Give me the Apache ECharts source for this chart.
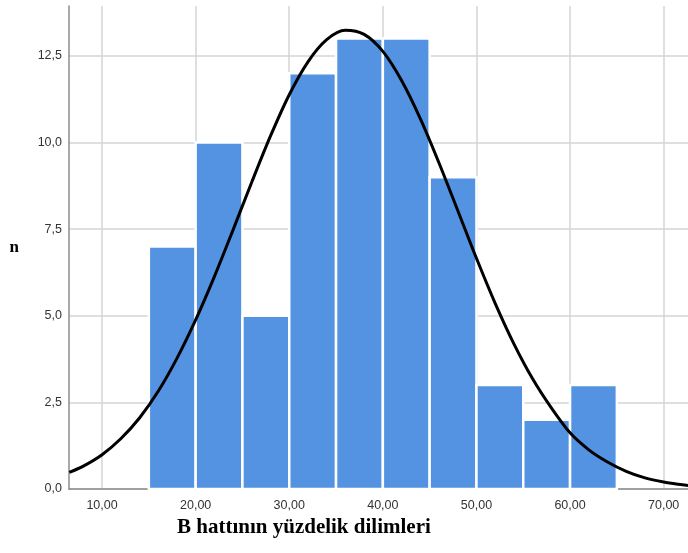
<!DOCTYPE html>
<html>
<head>
<meta charset="utf-8">
<script src="https://cdn.jsdelivr.net/npm/echarts@6/dist/echarts.min.js"></script>
<style>
  html, body { margin: 0; padding: 0; background: #fff; }
  #chart { width: 688px; height: 553px; }
</style>
</head>
<body>
<div id="chart"></div>
<script>
// histogram bins (lower edge, upper edge) and counts
var binStart = [15, 20, 25, 30, 35, 40, 45, 50, 55, 60];
var binEnd = [20, 25, 30, 35, 40, 45, 50, 55, 60, 65];
var counts = [7, 10, 5, 12, 13, 13, 9, 3, 2, 3];
// normal curve, points
var curveX = [6.5, 8, 10, 12, 14, 16, 18, 20, 22, 24, 26, 28, 30, 32, 34, 36, 38, 40, 42, 44, 46, 48, 50, 52, 54, 56, 58, 60, 62, 64, 66, 68, 70, 72, 72.6];
var curveY = [0.48, 0.66, 0.99, 1.45, 2.05, 2.82, 3.77, 4.88, 6.13, 7.48, 8.86, 10.19, 11.38, 12.33, 12.97, 13.24, 13.12, 12.63, 11.79, 10.69, 9.41, 8.04, 6.66, 5.36, 4.19, 3.18, 2.34, 1.62, 1.13, 0.78, 0.51, 0.32, 0.2, 0.12, 0.1];
// tick labels
var xTicks = [10, 20, 30, 40, 50, 60, 70];
var yTicks = [0, 2.5, 5, 7.5, 10, 12.5];

var barData = [];
for (var i = 0; i < counts.length; i++) {
  barData.push([binStart[i], binEnd[i], counts[i]]);
}
var lineData = [];
for (var j = 0; j < curveX.length; j++) {
  lineData.push([curveX[j], curveY[j]]);
}

var chart = echarts.init(document.getElementById("chart"));
var option = {
  animation: false,
  title: {
    text: "B hattının yüzdelik dilimleri",
    left: 172,
    top: 512,
    textStyle: { fontFamily: "Liberation Serif", fontWeight: "bold", fontSize: 21, color: "#000" }
  },
  grid: { left: 69, right: 0, top: 6, bottom: 64 },
  xAxis: {
    type: "value",
    min: 6.47,
    max: 72.6,
    axisLine: { show: true, lineStyle: { color: "#8c8c8c", width: 1.5 } },
    axisTick: { show: false, customValues: xTicks },
    axisLabel: {
      customValues: xTicks,
      color: "#333",
      fontSize: 12.5,
      fontFamily: "Liberation Sans",
      margin: 10,
      formatter: function (v) { return v.toFixed(2).replace(".", ","); }
    },
    splitLine: { show: true, lineStyle: { color: "#d4d4d4", width: 1.5 } }
  },
  yAxis: {
    type: "value",
    min: 0,
    max: 13.94,
    name: "n",
    nameLocation: "middle",
    nameRotate: 0,
    nameGap: 50,
    nameTextStyle: { fontFamily: "Liberation Serif", fontWeight: "bold", fontSize: 17, color: "#000" },
    axisLine: { show: true, lineStyle: { color: "#8c8c8c", width: 1.5 } },
    axisTick: { show: false, customValues: yTicks },
    axisLabel: {
      customValues: yTicks,
      color: "#333",
      fontSize: 12.5,
      fontFamily: "Liberation Sans",
      margin: 7,
      formatter: function (v) { return v.toFixed(1).replace(".", ","); }
    },
    splitLine: { show: true, lineStyle: { color: "#d4d4d4", width: 1.5 } }
  },
  series: [
    {
      type: "custom",
      data: barData,
      encode: { x: [0, 1], y: 2 },
      renderItem: function (params, api) {
        var p0 = api.coord([api.value(0), api.value(2)]);
        var p1 = api.coord([api.value(1), 0]);
        return {
          type: "rect",
          shape: { x: p0[0], y: p0[1], width: p1[0] - p0[0], height: p1[1] - p0[1] },
          style: { fill: "#5393e1", stroke: "#ffffff", lineWidth: 2.5 }
        };
      },
      z: 2
    },
    {
      type: "line",
      data: lineData,
      smooth: 0.3,
      symbol: "none",
      lineStyle: { color: "#000", width: 3 },
      z: 3
    }
  ]
};
chart.setOption(option);
</script>
</body>
</html>
